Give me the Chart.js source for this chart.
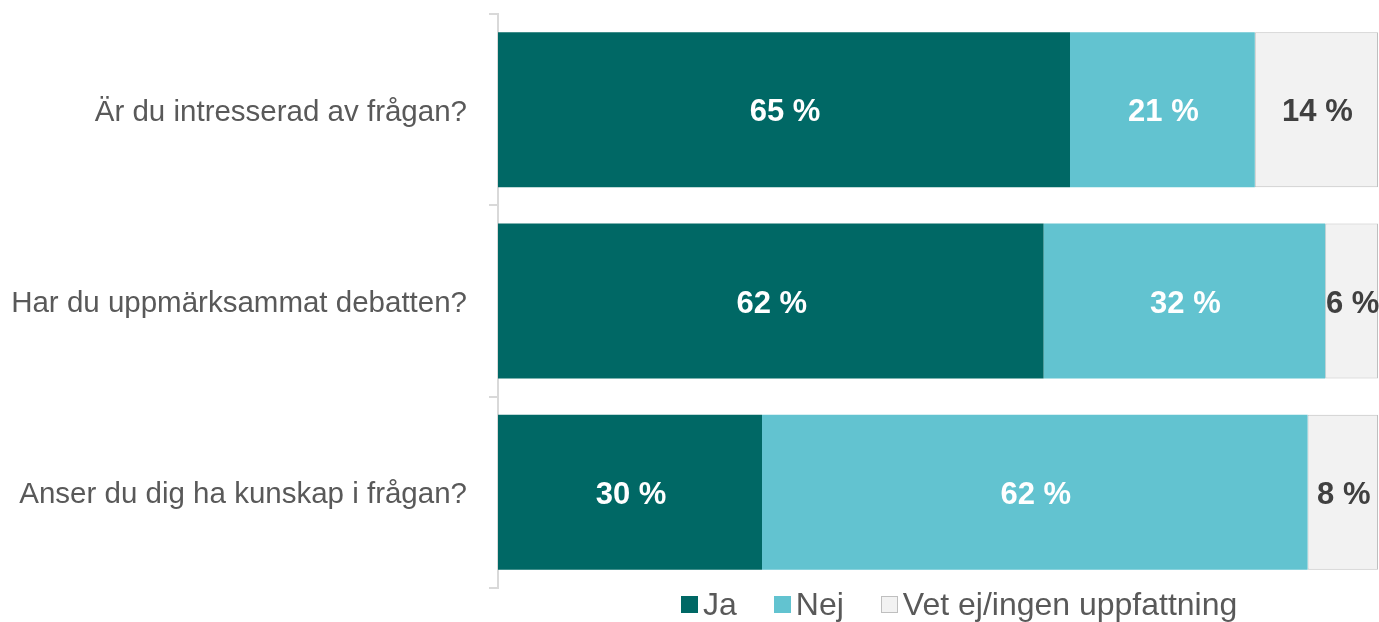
<!DOCTYPE html>
<html>
<head>
<meta charset="utf-8">
<script src="https://cdn.jsdelivr.net/npm/chart.js@4/dist/chart.umd.min.js"></script>
<style>
    html, body { margin: 0; padding: 0; background: #ffffff; }
    #wrap { position: relative; width: 1379px; height: 622px; }
    #legend {
        position: absolute; left: 681px; top: 586px; height: 36px; line-height: 36px;
        font-family: Arial, "Liberation Sans", sans-serif; font-size: 32px; color: #595959;
        display: flex; align-items: center; white-space: nowrap;
    }
    #legend span.item { display: flex; align-items: center; margin-right: 37px; }
    #legend span.box { display: inline-block; width: 17px; height: 17px; margin-right: 5px; box-sizing: border-box; }
</style>
</head>
<body>
<div id="wrap">
    <canvas id="chart" width="1379" height="622"></canvas>
    <div id="legend"></div>
</div>
<script>
// Data
const categories = [
    'Är du intresserad av frågan?',
    'Har du uppmärksammat debatten?',
    'Anser du dig ha kunskap i frågan?'
];
const seriesNames = ['Ja', 'Nej', 'Vet ej/ingen uppfattning'];
const jaValues = [65, 62, 30];
const nejValues = [21, 32, 62];
const vetValues = [14, 6, 8];

const colors = ['#006865', '#62c3d0', '#f2f2f2'];
const borders = ['#006865', '#62c3d0', '#bfbfbf'];
const labelColors = ['#ffffff', '#ffffff', '#404040'];

// Draw value labels in the middle of each segment
const valueLabels = {
    id: 'valueLabels',
    afterDatasetsDraw(chart) {
        const ctx = chart.ctx;
        ctx.save();
        ctx.font = 'bold 31px Arial, "Liberation Sans", sans-serif';
        ctx.textAlign = 'center';
        ctx.textBaseline = 'middle';
        chart.data.datasets.forEach((ds, i) => {
            chart.getDatasetMeta(i).data.forEach((bar, j) => {
                const p = bar.getProps(['x', 'y', 'base'], true);
                ctx.fillStyle = labelColors[i];
                ctx.fillText(ds.data[j] + ' %', (p.x + p.base) / 2 + 1, p.y + 3);
            });
        });
        ctx.restore();
    }
};

const datasetValues = [jaValues, nejValues, vetValues];

new Chart(document.getElementById('chart'), {
    type: 'bar',
    data: {
        labels: categories,
        datasets: seriesNames.map((name, i) => ({
            label: name,
            data: datasetValues[i],
            backgroundColor: colors[i],
            borderColor: borders[i],
            borderWidth: i === 2 ? 1 : 0,
            borderSkipped: false,
            categoryPercentage: 1,
            barPercentage: 0.81
        }))
    },
    options: {
        indexAxis: 'y',
        responsive: false,
        animation: false,
        layout: { padding: { top: 14, right: 1, bottom: 34, left: 0 } },
        plugins: {
            legend: { display: false },
            tooltip: { enabled: false }
        },
        scales: {
            x: {
                stacked: true,
                display: false,
                min: 0,
                max: 100
            },
            y: {
                stacked: true,
                afterFit: scale => {
                    scale.width = 498;
                    scale.paddingTop = 0;
                    scale.paddingBottom = 0;
                },
                border: { display: true, color: '#d9d9d9', width: 2 },
                grid: {
                    offset: true,
                    drawOnChartArea: false,
                    drawTicks: true,
                    tickLength: 9,
                    color: '#d9d9d9',
                    lineWidth: 2
                },
                ticks: {
                    color: '#595959',
                    padding: 22,
                    labelOffset: 3,
                    font: { family: 'Arial, "Liberation Sans", sans-serif', size: 29.5 }
                }
            }
        }
    },
    plugins: [valueLabels]
});

// Legend
const legend = document.getElementById('legend');
seriesNames.forEach((name, i) => {
    legend.innerHTML += `<span class="item"><span class="box" style="background:${colors[i]};border:1px solid ${borders[i]}"></span>${name}</span>`;
});
</script>
</body>
</html>
